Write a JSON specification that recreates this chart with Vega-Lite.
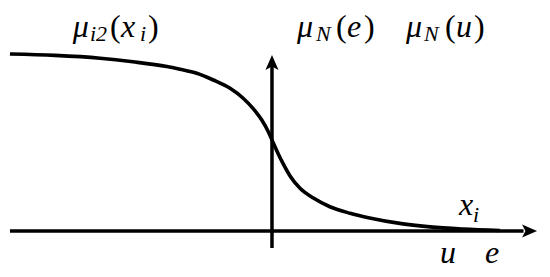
{
  "$schema": "https://vega.github.io/schema/vega-lite/v6.json",
  "width": 550,
  "height": 277,
  "autosize": {"type": "fit", "contains": "padding"},
  "padding": 0,
  "background": "white",
  "config": {"view": {"stroke": null}},
  "datasets": {
    "curve": [
      {"x": -10, "y": 1.0},
      {"x": -8.28, "y": 0.992},
      {"x": -6.56, "y": 0.976},
      {"x": -5.31, "y": 0.956},
      {"x": -4.01, "y": 0.929},
      {"x": -3.51, "y": 0.914},
      {"x": -2.87, "y": 0.891},
      {"x": -2.24, "y": 0.853},
      {"x": -1.6, "y": 0.806},
      {"x": -1.1, "y": 0.75},
      {"x": -0.71, "y": 0.69},
      {"x": -0.39, "y": 0.627},
      {"x": -0.14, "y": 0.561},
      {"x": 0.05, "y": 0.497},
      {"x": 0.24, "y": 0.435},
      {"x": 0.43, "y": 0.379},
      {"x": 0.69, "y": 0.311},
      {"x": 1.07, "y": 0.241},
      {"x": 1.58, "y": 0.186},
      {"x": 2.21, "y": 0.137},
      {"x": 2.98, "y": 0.1},
      {"x": 3.68, "y": 0.075},
      {"x": 5.0, "y": 0.04},
      {"x": 6.03, "y": 0.023},
      {"x": 7.29, "y": 0.011},
      {"x": 8.7, "y": 0.003}
    ],
    "axes": [
      {"x": -10, "x2": 9.6, "y": 0, "y2": 0},
      {"x": 0, "x2": 0, "y": -0.096, "y2": 0.94}
    ],
    "arrowRight": [{"x": 9.83, "y": 0}],
    "arrowUp": [{"x": 0, "y": 0.952}],
    "labels": [
      {"t": "μ", "kind": "mi", "x": -7.6, "y": 1.096},
      {"t": "i2", "kind": "sub", "x": -6.95, "y": 1.073},
      {"t": "(", "kind": "paren", "x": -6.18, "y": 1.096},
      {"t": "x", "kind": "mi", "x": -5.76, "y": 1.096},
      {"t": "i", "kind": "sub", "x": -5.04, "y": 1.073},
      {"t": ")", "kind": "paren", "x": -4.73, "y": 1.096},
      {"t": "μ", "kind": "mi", "x": 0.95, "y": 1.096},
      {"t": "N", "kind": "sub", "x": 1.68, "y": 1.073},
      {"t": "(", "kind": "paren", "x": 2.44, "y": 1.096},
      {"t": "e", "kind": "mi", "x": 2.86, "y": 1.096},
      {"t": ")", "kind": "paren", "x": 3.51, "y": 1.096},
      {"t": "μ", "kind": "mi", "x": 5.11, "y": 1.096},
      {"t": "N", "kind": "sub", "x": 5.8, "y": 1.073},
      {"t": "(", "kind": "paren", "x": 6.6, "y": 1.096},
      {"t": "u", "kind": "mi", "x": 7.02, "y": 1.096},
      {"t": ")", "kind": "paren", "x": 7.71, "y": 1.096},
      {"t": "x", "kind": "mi", "x": 7.14, "y": 0.09},
      {"t": "i", "kind": "sub", "x": 7.67, "y": 0.051},
      {"t": "u", "kind": "mi", "x": 6.41, "y": -0.181},
      {"t": "e", "kind": "mi", "x": 8.13, "y": -0.181}
    ]
  },
  "layer": [
    {
      "data": {"name": "axes"},
      "mark": {"type": "rule", "strokeWidth": 3.5, "color": "#000"},
      "encoding": {
        "x": {"field": "x", "type": "quantitative", "scale": {"domain": [-10.38, 10.61], "nice": false, "zero": false}, "axis": null},
        "x2": {"field": "x2"},
        "y": {"field": "y", "type": "quantitative", "scale": {"domain": [-0.26, 1.305], "nice": false, "zero": false}, "axis": null},
        "y2": {"field": "y2"}
      }
    },
    {
      "data": {"name": "curve"},
      "mark": {"type": "line", "strokeWidth": 3.6, "color": "#000", "interpolate": "monotone"},
      "encoding": {
        "x": {"field": "x", "type": "quantitative"},
        "y": {"field": "y", "type": "quantitative"}
      }
    },
    {
      "data": {"name": "arrowRight"},
      "mark": {"type": "point", "filled": true, "color": "#000", "opacity": 1, "size": 225, "shape": "M1,0 L-1,-0.87 L-0.55,0 L-1,0.87 Z"},
      "encoding": {
        "x": {"field": "x", "type": "quantitative"},
        "y": {"field": "y", "type": "quantitative"}
      }
    },
    {
      "data": {"name": "arrowUp"},
      "mark": {"type": "point", "filled": true, "color": "#000", "opacity": 1, "size": 225, "shape": "M0,-1 L-0.87,1 L0,0.55 L0.87,1 Z"},
      "encoding": {
        "x": {"field": "x", "type": "quantitative"},
        "y": {"field": "y", "type": "quantitative"}
      }
    },
    {
      "data": {"name": "labels"},
      "transform": [{"filter": "datum.kind === 'mi'"}],
      "mark": {"type": "text", "font": "Liberation Serif", "fontStyle": "italic", "fontSize": 32, "align": "left", "baseline": "alphabetic", "color": "#000"},
      "encoding": {
        "x": {"field": "x", "type": "quantitative"},
        "y": {"field": "y", "type": "quantitative"},
        "text": {"field": "t"}
      }
    },
    {
      "data": {"name": "labels"},
      "transform": [{"filter": "datum.kind === 'sub'"}],
      "mark": {"type": "text", "font": "Liberation Serif", "fontStyle": "italic", "fontSize": 22, "align": "left", "baseline": "alphabetic", "color": "#000"},
      "encoding": {
        "x": {"field": "x", "type": "quantitative"},
        "y": {"field": "y", "type": "quantitative"},
        "text": {"field": "t"}
      }
    },
    {
      "data": {"name": "labels"},
      "transform": [{"filter": "datum.kind === 'paren'"}],
      "mark": {"type": "text", "font": "Liberation Serif", "fontSize": 32, "align": "left", "baseline": "alphabetic", "color": "#000"},
      "encoding": {
        "x": {"field": "x", "type": "quantitative"},
        "y": {"field": "y", "type": "quantitative"},
        "text": {"field": "t"}
      }
    }
  ]
}
